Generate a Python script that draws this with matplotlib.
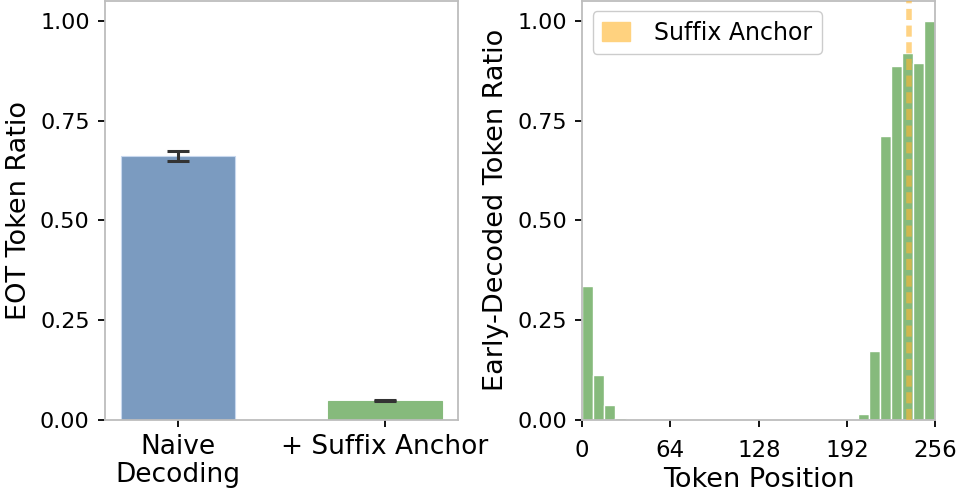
import numpy as np
import matplotlib
matplotlib.use('Agg')
import matplotlib.pyplot as plt
from matplotlib.patches import Patch

# Left panel: EOT token ratio per decoding method
methods = ['Naive\nDecoding', '+ Suffix Anchor']
eot_ratio = [0.660, 0.048]
eot_err = [0.0125, 0.0015]

# Right panel: early-decoded token ratio by position bin (bin width 8)
bin_starts = list(range(0, 256, 8))
early_ratio = [0.336, 0.112, 0.038, 0.004, 0, 0, 0, 0,
               0, 0, 0, 0, 0, 0, 0, 0,
               0, 0, 0, 0, 0, 0, 0, 0,
               0, 0.015, 0.173, 0.710, 0.886, 0.919, 0.895, 0.998]
anchor_pos = 237
pos_ticks = [0, 64, 128, 192, 256]

BLUE = '#7b9bc0'
GREEN = '#86ba7c'
SPINE = '#bdbdbd'

fig = plt.figure(figsize=(9.57, 4.98), dpi=100)
ax1 = fig.add_axes([0.1097, 0.1566, 0.3689, 0.842])
ax2 = fig.add_axes([0.6082, 0.1566, 0.3693, 0.842])

for ax in (ax1, ax2):
    for s in ax.spines.values():
        s.set_color(SPINE)
        s.set_linewidth(1.3)
    ax.tick_params(length=5, width=1.3, labelsize=16, pad=6, color='black')
    ax.set_ylim(0, 1.05)
    ax.set_yticks([0, 0.25, 0.5, 0.75, 1.0])
    ax.set_yticklabels(['0.00', '0.25', '0.50', '0.75', '1.00'])

# left
xpos = np.arange(len(methods))
ax1.bar(xpos, eot_ratio, width=0.55, color=[BLUE, GREEN], edgecolor=['#c8d8ee', GREEN], linewidth=0.8)
ax1.errorbar(xpos, eot_ratio, yerr=eot_err, fmt='none', ecolor='#333333',
             elinewidth=2.2, capsize=8, capthick=2.2)
ax1.set_xlim(-0.353, 1.353)
ax1.set_xticks(xpos)
ax1.set_xticklabels(methods, fontsize=19, linespacing=1.12)
ax1.tick_params(axis='x', pad=5)
ax1.set_ylabel('EOT Token Ratio', fontsize=19.5, labelpad=6)

# right
ax2.bar(bin_starts, early_ratio, width=8, align='edge', color=GREEN,
        edgecolor='white', linewidth=1)
ax2.axvline(anchor_pos, color='#ffb733', alpha=0.6, linewidth=4,
            linestyle=(0, (2, 1)), zorder=3)
ax2.set_xlim(0, 256)
ax2.set_xticks(pos_ticks)
ax2.tick_params(axis='x', labelsize=16.5, pad=9)
ax2.set_xlabel('Token Position', fontsize=19.5, labelpad=3)
ax2.set_ylabel('Early-Decoded Token Ratio', fontsize=19.5, labelpad=6)
handle = Patch(facecolor='#ffd27f', edgecolor='#ffd27f', label='Suffix Anchor')
ax2.legend(handles=[handle], loc='upper left', fontsize=17, framealpha=1,
           edgecolor='#cccccc', handlelength=1.2, handleheight=0.9,
           handletextpad=1.0, borderaxespad=0.45)

fig.savefig('out.png', dpi=100)
